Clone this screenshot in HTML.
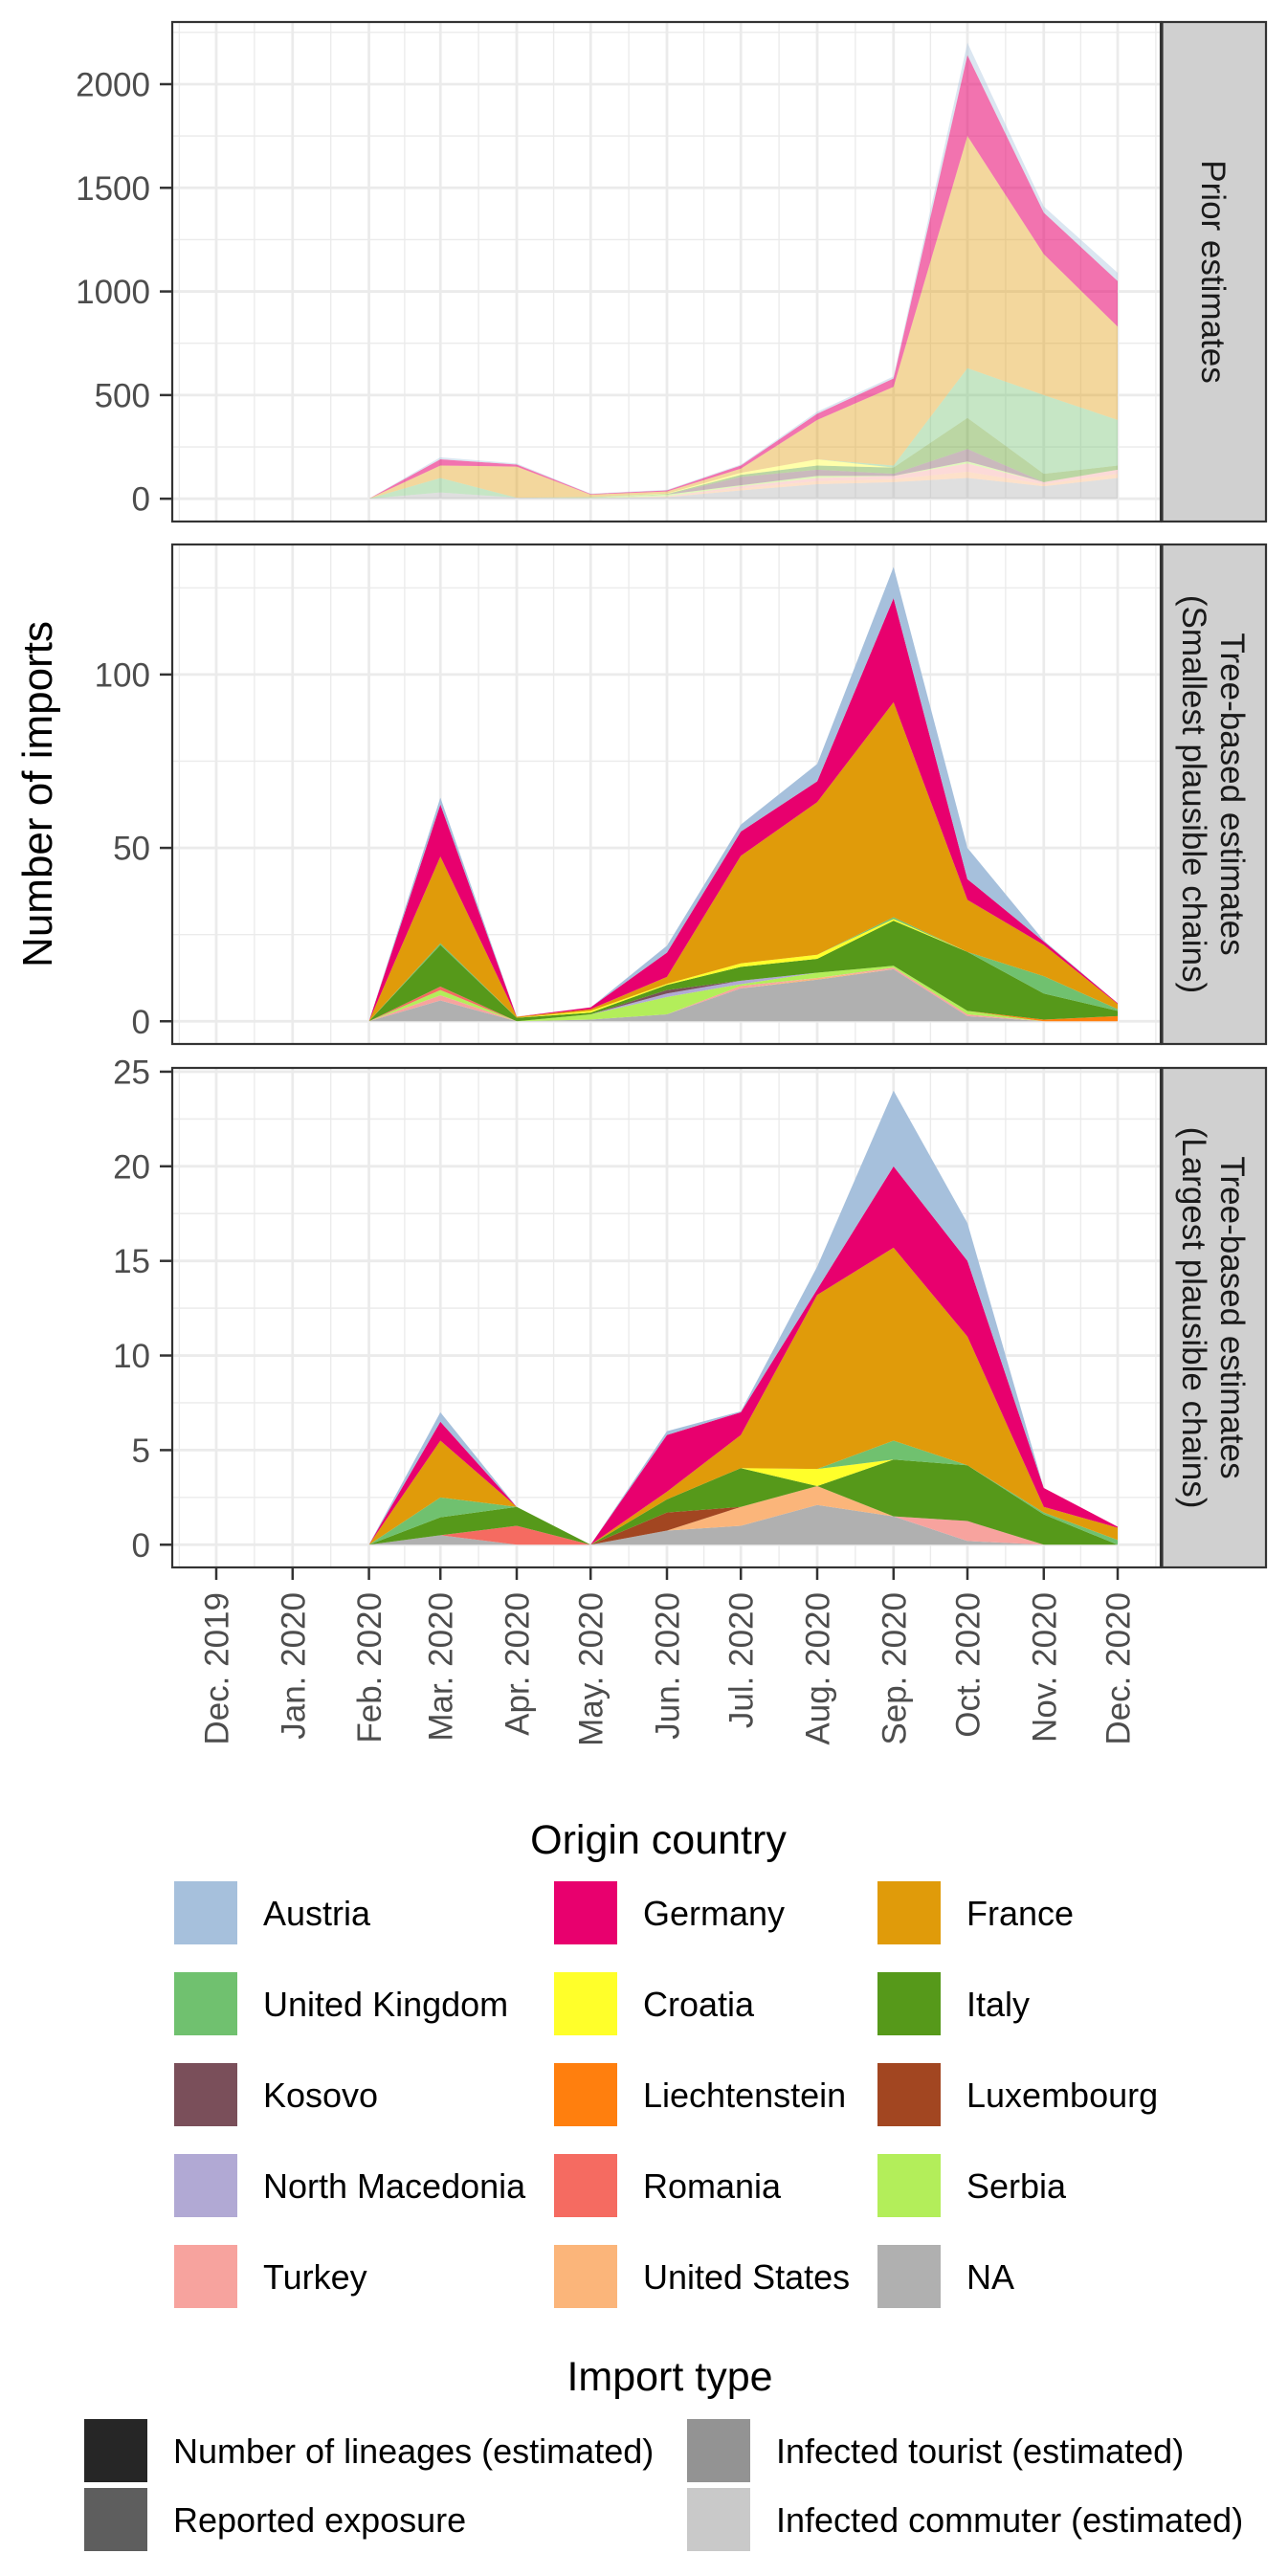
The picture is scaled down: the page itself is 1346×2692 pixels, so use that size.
<!DOCTYPE html>
<html>
<head>
<meta charset="utf-8">
<style>
html,body{margin:0;padding:0;background:#fff;}
svg{display:block;font-family:"Liberation Sans",Arial,sans-serif;}
</style>
</head>
<body>
<svg id="chart" width="1346" height="2692" viewBox="0 0 1346 2692" xmlns="http://www.w3.org/2000/svg">
<rect x="0" y="0" width="1346" height="2692" fill="#fff"/>
</svg>
<script>
const monthLabels = ["Dec. 2019","Jan. 2020","Feb. 2020","Mar. 2020","Apr. 2020","May. 2020","Jun. 2020","Jul. 2020","Aug. 2020","Sep. 2020","Oct. 2020","Nov. 2020","Dec. 2020"];
const countries = ["Austria","Germany","France","United Kingdom","Croatia","Italy","Kosovo","Liechtenstein","Luxembourg","North Macedonia","Romania","Serbia","Turkey","United States","NA"];
const countryColors = ["#a6c0dc","#e8006e","#e09b0a","#70c16f","#ffff2a","#56991a","#7a4f5a","#ff7f0e","#a24621","#b1a9d4","#f56b61","#b3ee5a","#f7a39e","#fbb57a","#b0b0b0"];
const importTypes = ["Number of lineages (estimated)","Reported exposure","Infected tourist (estimated)","Infected commuter (estimated)"];
const importColors = ["#262626","#5e5e5e","#939393","#c9c9c9"];
// values start at Feb. 2020 (month index 2) through Dec. 2020
const firstDataMonth = 2;
const priorValues = [
 [0,10,5,2,3,5,10,10,60,30,40],
 [0,30,10,3,5,15,30,40,390,200,220],
 [0,60,150,12,10,20,190,380,1120,680,450],
 [0,70,0,3,0,0,0,10,240,380,220],
 [0,0,0,0,2,10,30,0,0,0,0],
 [0,0,0,0,3,10,20,30,150,40,20],
 [0,0,0,0,0,40,30,10,60,0,0],
 [0,0,0,0,0,0,0,0,0,0,0],
 [0,0,0,0,0,0,0,0,0,0,0],
 [0,0,0,0,0,0,0,0,0,0,0],
 [0,0,0,0,0,0,0,0,0,0,0],
 [0,0,0,2,8,5,10,0,10,0,0],
 [0,0,0,0,2,10,15,15,40,10,20],
 [0,0,0,0,2,10,15,15,30,10,20],
 [0,30,5,3,8,40,70,80,100,60,100]
];
const smallestValues = [
 [0,2,0,0,2,2,5,9,9,0.3,0],
 [0,15,0,0.5,7,7,6,30,6,1,0.2],
 [0,25,0.3,0.5,2,31,44,62,15,9,1.5],
 [0,0.5,0,0,0,0,0,0.5,0,5,0.5],
 [0,0,0,0.5,0.3,1,1.2,0.5,0,0,0],
 [0,12,1,0.5,1.5,4,4,13,17,7.5,1.5],
 [0,0,0,0,1,0,0,0,0,0,0],
 [0,0,0,0,0,0,0,0,0,0.5,1.5],
 [0,0,0,0,0,0,0,0,0,0,0],
 [0,0,0,0,1,1,0,0,0,0,0],
 [0,1,0,0,0,0,0,0,0,0,0],
 [0,1.5,0,1.5,5,0.5,1.5,0.5,1,0,0],
 [0,1.5,0,0,0,0.7,0,0.5,0.5,0,0],
 [0,0,0,0,0,0,0.5,0,0,0,0],
 [0,6,0,0.5,2,9.5,12,15,1.5,0,0]
];
const largestValues = [
 [0,0.5,0,0,0.2,0.05,1.2,4.0,2.0,0,0],
 [0,1.0,0,0,3.0,1.2,0.3,4.3,4.0,1.0,0.05],
 [0,3.0,0,0,0.4,1.75,9.2,10.2,6.8,0.3,0.65],
 [0,1.05,0,0,0,0,0,1.0,0,0.1,0.25],
 [0,0,0,0,0,0,0.9,0,0,0,0],
 [0,0.95,1.0,0,0.7,2.05,0,3.0,2.95,1.6,0],
 [0,0,0,0,0,0,0,0,0,0,0],
 [0,0,0,0,0,0,0,0,0,0,0],
 [0,0,0,0,0.95,0,0,0,0,0,0],
 [0,0,0,0,0,0,0,0,0,0,0],
 [0,0,1.0,0,0,0,0,0,0,0,0],
 [0,0,0,0,0,0,0,0,0,0,0],
 [0,0,0,0,0,0,0,0,1.05,0,0],
 [0,0,0,0,0,1.0,1.0,0,0,0,0],
 [0,0.5,0,0,0.75,1.0,2.1,1.5,0.2,0,0]
];
const priorTicks = [0,500,1000,1500,2000];
const smallestTicks = [0,50,100];
const largestTicks = [0,5,10,15,20,25];

const NS = "http://www.w3.org/2000/svg";
const svg = document.getElementById("chart");
function mk(tag, attrs, parent){
  const e = document.createElementNS(NS, tag);
  for (const k in attrs) e.setAttribute(k, attrs[k]);
  (parent||svg).appendChild(e);
  return e;
}
const PL = 180, PR = 1213;
const X0 = 226, X1 = 1168;
const t0 = Date.UTC(2019,11,1), t1 = Date.UTC(2020,11,1);
function xDate(ms){ return X0 + (ms - t0)/(t1 - t0)*(X1 - X0); }
function xMonth(i){ return xDate(Date.UTC(2019,11+i,1)); }

const panels = [
  {name:"prior", top:23, bottom:545, ymax:2300, ymin:-110, ticks:priorTicks, minorStep:250, values:priorValues, opacity:0.4, strip:["Prior estimates"]},
  {name:"smallest", top:569, bottom:1091, ymax:137.5, ymin:-6.55, ticks:smallestTicks, minorStep:25, values:smallestValues, opacity:1, strip:["Tree-based estimates","(Smallest plausible chains)"]},
  {name:"largest", top:1116, bottom:1638, ymax:25.2, ymin:-1.2, ticks:largestTicks, minorStep:2.5, values:largestValues, opacity:1, strip:["Tree-based estimates","(Largest plausible chains)"]}
];

panels.forEach(function(p){
  const g = mk("g", {});
  
  
  function y(v){ return p.bottom - (v - p.ymin)/(p.ymax - p.ymin)*(p.bottom - p.top); }
  mk("rect",{x:PL,y:p.top,width:PR-PL,height:p.bottom-p.top,fill:"#fff"},g);
  // minor horizontal grid
  for (let v = p.minorStep; v < p.ymax; v += p.minorStep*2){
    const yy = y(v);
    if (yy > p.top && yy < p.bottom) mk("line",{x1:PL,x2:PR,y1:yy,y2:yy,stroke:"#ebebeb","stroke-width":1.4},g);
  }
  // minor vertical grid (mid-months)
  for (let i = -1; i < 13; i++){
    const xm = (xMonth(i) + xMonth(i+1))/2;
    if (xm > PL && xm < PR) mk("line",{x1:xm,x2:xm,y1:p.top,y2:p.bottom,stroke:"#ebebeb","stroke-width":1.4},g);
  }
  p.ticks.forEach(function(v){
    const yy = y(v);
    mk("line",{x1:PL,x2:PR,y1:yy,y2:yy,stroke:"#ebebeb","stroke-width":2.8},g);
  });
  monthLabels.forEach(function(m,i){
    const xx = xMonth(i);
    mk("line",{x1:xx,x2:xx,y1:p.top,y2:p.bottom,stroke:"#ebebeb","stroke-width":2.8},g);
  });
  // stacked areas: last country at bottom
  const n = p.values[0].length;
  const cum = new Array(n).fill(0);
  for (let c = countries.length - 1; c >= 0; c--){
    const lower = cum.slice();
    for (let j = 0; j < n; j++) cum[j] += p.values[c][j];
    const upper = cum.slice();
    let d = "";
    for (let j = 0; j < n; j++) d += (j ? "L" : "M") + xMonth(j+firstDataMonth).toFixed(2) + "," + y(upper[j]).toFixed(2);
    for (let j = n-1; j >= 0; j--) d += "L" + xMonth(j+firstDataMonth).toFixed(2) + "," + y(lower[j]).toFixed(2);
    d += "Z";
    const op = p.opacity < 1 && countries[c] === "Germany" ? 0.55 : p.opacity;
    const a = mk("path",{d:d,fill:countryColors[c],"fill-opacity":op,stroke:"none"},g);
    
    
  }
  mk("rect",{x:PL,y:p.top,width:PR-PL,height:p.bottom-p.top,fill:"none",stroke:"#333","stroke-width":2.2},g);
  // y ticks
  p.ticks.forEach(function(v){
    const yy = y(v);
    mk("line",{x1:167,x2:PL,y1:yy,y2:yy,stroke:"#333","stroke-width":2.5},g);
    const t = mk("text",{x:157,y:yy+12.5,"text-anchor":"end","font-size":35,fill:"#4d4d4d"},g);
    t.textContent = v;
    
    
  });
  // strip
  const s = mk("rect",{x:1214.5,y:p.top,width:108.5,height:p.bottom-p.top,fill:"#d0d0d0",stroke:"#333","stroke-width":2.2},g);
  
  
  const cy = (p.top + p.bottom)/2;
  const lines = p.strip;
  const spacing = 40;
  lines.forEach(function(txt, k){
    const offset = (k - (lines.length-1)/2) * spacing;
    const bx = 1268 - offset - 12;
    const t = mk("text",{x:bx,y:cy,"text-anchor":"middle","font-size":35,fill:"#1a1a1a",transform:"rotate(90 "+bx+" "+cy+")"},g);
    t.textContent = txt;
    
    
  });
});

// x-axis ticks and labels (bottom panel)
monthLabels.forEach(function(m,i){
  const xx = xMonth(i);
  mk("line",{x1:xx,x2:xx,y1:1638,y2:1651,stroke:"#333","stroke-width":2.5});
  const bx = xx + 12.5, by = 1664;
  const t = mk("text",{x:bx,y:by,"text-anchor":"end","font-size":35,fill:"#4d4d4d",transform:"rotate(-90 "+bx+" "+by+")"});
  t.textContent = m;
  
  
});

// y-axis title
(function(){
  const bx = 54, by = 830;
  const t = mk("text",{x:bx,y:by,"text-anchor":"middle","font-size":44,fill:"#000",transform:"rotate(-90 "+bx+" "+by+")"});
  t.textContent = "Number of imports";
  
  
})();

// Origin country legend
(function(){
  const title = mk("text",{x:688,y:1937,"text-anchor":"middle","font-size":43,fill:"#000"});
  title.textContent = "Origin country";
  
  
  const colX = [182,579,917];
  const rowY = [1966,2061,2156,2251,2346];
  countries.forEach(function(c,i){
    const col = i % 3, row = Math.floor(i/3);
    const g = mk("g",{});
    
    
    mk("rect",{x:colX[col],y:rowY[row],width:66,height:66,fill:countryColors[i]},g);
    const t = mk("text",{x:colX[col]+93,y:rowY[row]+46,"font-size":36,fill:"#000"},g);
    t.textContent = c;
  });
})();

// Import type legend
(function(){
  const title = mk("text",{x:700,y:2498,"text-anchor":"middle","font-size":43,fill:"#000"});
  title.textContent = "Import type";
  
  
  const colX = [88,718];
  const rowY = [2528,2600];
  importTypes.forEach(function(c,i){
    const col = Math.floor(i/2), row = i % 2;
    const g = mk("g",{});
    
    
    mk("rect",{x:colX[col],y:rowY[row],width:66,height:66,fill:importColors[i]},g);
    const t = mk("text",{x:colX[col]+93,y:rowY[row]+46,"font-size":36,fill:"#000"},g);
    t.textContent = c;
  });
})();
</script>
</body>
</html>
